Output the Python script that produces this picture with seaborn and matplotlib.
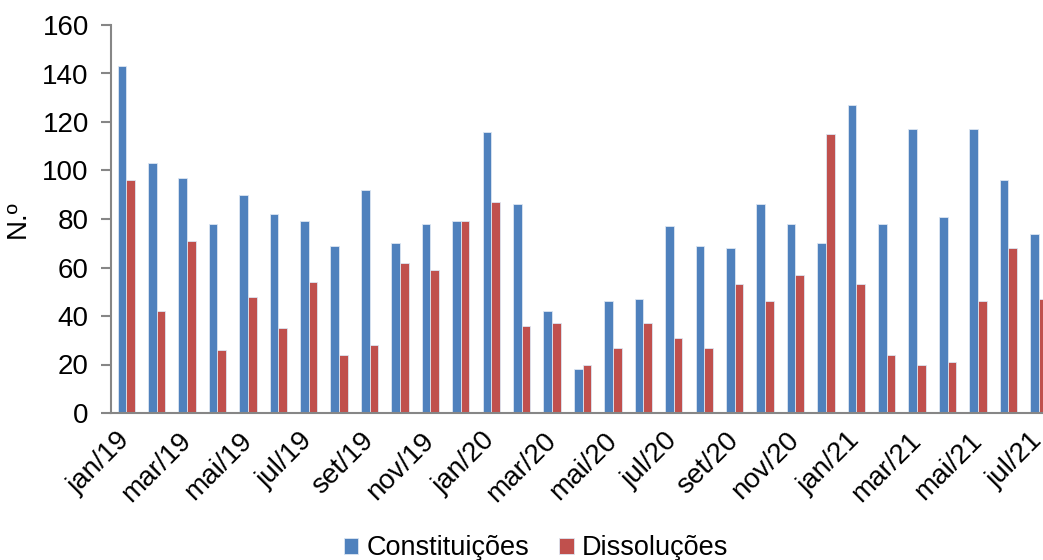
import matplotlib
matplotlib.use("Agg")
import matplotlib.pyplot as plt
import matplotlib.transforms as mtransforms
import seaborn as sns
import pandas as pd
from matplotlib.ticker import FixedLocator

# Monthly counts of company constitutions and dissolutions
months = [
    "jan/19", "fev/19", "mar/19", "abr/19", "mai/19", "jun/19", "jul/19", "ago/19",
    "set/19", "out/19", "nov/19", "dez/19",
    "jan/20", "fev/20", "mar/20", "abr/20", "mai/20", "jun/20", "jul/20", "ago/20",
    "set/20", "out/20", "nov/20", "dez/20",
    "jan/21", "fev/21", "mar/21", "abr/21", "mai/21", "jun/21", "jul/21",
]
constituicoes = [143, 103, 97, 78, 90, 82, 79, 69, 92, 70, 78, 79,
                 116, 86, 42, 18, 46, 47, 77, 69, 68, 86, 78, 70,
                 127, 78, 117, 81, 117, 96, 74]
dissolucoes = [96, 42, 71, 26, 48, 35, 54, 24, 28, 62, 59, 79,
               87, 36, 37, 20, 27, 37, 31, 27, 53, 46, 57, 115,
               53, 24, 20, 21, 46, 68, 47]
series_names = ["Constituições", "Dissoluções"]
series_colors = ["#4F81BD", "#C0504D"]
y_ticks = [0, 20, 40, 60, 80, 100, 120, 140, 160]

df = pd.DataFrame({
    "mes": months * 2,
    "valor": constituicoes + dissolucoes,
    "serie": [series_names[0]] * len(months) + [series_names[1]] * len(months),
})

sns.set_theme(style="white")
plt.rcParams["font.family"] = ["Liberation Sans", "DejaVu Sans"]
plt.rcParams["text.color"] = "black"
plt.rcParams["axes.labelcolor"] = "black"

FS = 20
fig = plt.figure(figsize=(10.43, 5.6), dpi=100)
# plot area runs past the right edge, so the last month is cut off
ax = fig.add_axes([111 / 1043, 1 - 413 / 560, 943 / 1043, 388 / 560])

sns.barplot(data=df, x="mes", y="valor", hue="serie", order=months,
            hue_order=series_names, palette=series_colors, saturation=1,
            width=0.57, edgecolor="#DCE6F2", linewidth=0.6, ax=ax, legend=True)

ax.set_xlim(-0.5, len(months) - 0.5)
ax.set_ylim(0, 160)
ax.set_yticks(y_ticks)
ax.set_yticklabels([str(v) for v in y_ticks], fontsize=FS)

# labels every second month, tick marks on category boundaries
label_pos = list(range(0, len(months), 2))
ax.set_xticks(label_pos)
ax.set_xticklabels([months[i] for i in label_pos], fontsize=FS, rotation=45,
                   ha="right", va="center", rotation_mode="anchor")
shift = mtransforms.ScaledTranslation(8 / 100, -7 / 100, fig.dpi_scale_trans)
for lbl in ax.get_xticklabels():
    lbl.set_transform(lbl.get_transform() + shift)
ax.xaxis.set_minor_locator(FixedLocator([i - 0.5 for i in label_pos] + [len(months) - 0.5]))
ax.tick_params(axis="x", which="major", length=0, pad=17)
ax.tick_params(axis="x", which="minor", length=7, width=1.5, direction="out")
ax.tick_params(axis="y", length=7, width=1.5, direction="out", pad=9, left=True)
ax.tick_params(axis="both", which="both", color="#868686", labelcolor="black")

for side in ["top", "right"]:
    ax.spines[side].set_visible(False)
for side in ["left", "bottom"]:
    ax.spines[side].set_color("#868686")
    ax.spines[side].set_linewidth(1.5)

ax.set_xlabel("")
ax.set_ylabel("N.º", fontsize=FS, labelpad=8, color="black")
ax.grid(False)

handles, labels = ax.get_legend_handles_labels()
ax.get_legend().remove()
fig.legend(handles, labels, loc="lower center", bbox_to_anchor=(536 / 1043, -0.046),
           ncol=2, frameon=False, fontsize=19.5, handlelength=0.55, handleheight=0.55,
           handletextpad=0.3, columnspacing=1.1, labelcolor="black")

fig.savefig("out.png", dpi=100)
